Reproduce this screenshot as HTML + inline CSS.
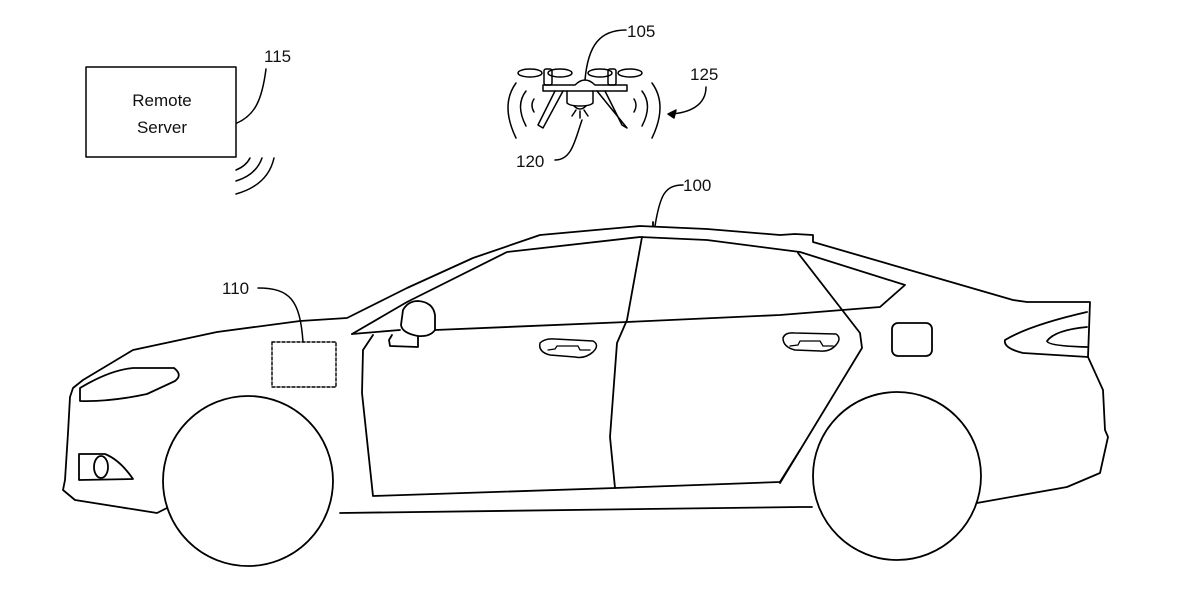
<!DOCTYPE html>
<html><head><meta charset="utf-8"><style>
html,body{margin:0;padding:0;background:#fff;}
svg{display:block;}
text{font-family:"Liberation Sans",sans-serif;fill:#111;}
</style></head><body>
<svg width="1178" height="589" viewBox="0 0 1178 589" fill="none" stroke="#000" stroke-width="1.8" stroke-linejoin="round" stroke-linecap="round">
<!-- Remote server -->
<rect x="86" y="67" width="150" height="90" stroke-width="1.5"/>
<text x="162" y="106" font-size="17" text-anchor="middle" stroke="none">Remote</text>
<text x="162" y="133" font-size="17" text-anchor="middle" stroke="none">Server</text>
<text x="264" y="62" font-size="17" stroke="none">115</text>
<path d="M266 69 C262 100 255 115 237 123" stroke-width="1.5"/>
<path d="M236 170 Q246 166 250 158" stroke-width="1.5"/>
<path d="M236 181 Q256 175 262 158" stroke-width="1.5"/>
<path d="M236 194 Q268 185 274 158" stroke-width="1.5"/>

<!-- Drone -->
<g stroke-width="1.5">
<text x="627" y="37" font-size="17" stroke="none">105</text>
<path d="M626 30 C600 30 588 45 585 80"/>
<text x="690" y="80" font-size="17" stroke="none">125</text>
<path d="M706 87 C706 105 690 113 670 114"/>
<path d="M668 114 l8 -4 l-2 8 z" fill="#000"/>
<text x="516" y="167" font-size="17" stroke="none">120</text>
<path d="M555 160 C572 160 575 140 582 120"/>
<!-- propellers -->
<ellipse cx="530" cy="73" rx="12" ry="4"/><ellipse cx="560" cy="73" rx="12" ry="4"/>
<ellipse cx="600" cy="73" rx="12" ry="4"/><ellipse cx="630" cy="73" rx="12" ry="4"/>
<rect x="544" y="69" width="8" height="16" rx="2"/><rect x="608" y="69" width="8" height="16" rx="2"/>
<path d="M543 85 L575 85 Q580 80 585 80 Q590 80 595 85 L627 85 L627 91 L543 91 Z"/>
<path d="M567 91 L567 103 Q570 106 580 106 Q590 106 593 103 L593 91"/>
<path d="M574 106 Q580 112 586 106"/>
<path d="M555 91 L538 125 L543 128 L563 91"/>
<path d="M605 91 L622 125 L627 128 L597 91"/>
<path d="M576 110 l-4 6 M580 111 l0 7 M584 110 l4 6"/>
<path d="M516 83 Q500 105 516 138"/><path d="M526 91 Q515 105 526 126"/><path d="M534 99 Q530 105 534 112"/>
<path d="M652 83 Q668 105 652 138"/><path d="M642 91 Q653 105 642 126"/><path d="M634 99 Q638 105 634 112"/>
</g>

<!-- Car body -->
<text x="683" y="191" font-size="17" stroke="none">100</text>
<path d="M683 185 C665 185 660 195 655 226" stroke-width="1.5"/>
<text x="222" y="294" font-size="17" stroke="none">110</text>
<path d="M258 288 C290 288 300 300 303 342" stroke-width="1.5"/>
<rect x="272" y="342" width="64" height="45" stroke-width="1.4" stroke-dasharray="3,2"/>

<!-- outer outline -->
<path d="M167 508 L157 513 L75 500 L63 490 L65 480 L68 433 L70 397 L73 388 L83 380 L133 350 L217 332 L300 321 L347 318 L383 300 L407 288 L473 258 L540 235 L640 226 L707 229 L780 235 L795 234 L813 235 L813 242 L1013 300 L1027 302 L1090 302 L1088 357 L1103 390 L1105 430 L1108 437 L1100 473 L1067 487 L977 503"/>
<path d="M340 513 L800 507 L812 507"/>
<!-- wheels -->
<circle cx="248" cy="481" r="85"/>
<circle cx="897" cy="476" r="84"/>
<!-- window/greenhouse -->
<path d="M352 334 L407 302 L507 252 L640 237 L707 240 L800 252 L905 285 L880 307 L780 315 L627 322 L435 330"/>
<path d="M352 334 L400 330"/>
<!-- B pillar -->
<path d="M642 237 L627 320 L617 343 L610 437 L615 488"/>
<!-- front door -->
<path d="M373 335 L363 350 L362 393 L373 496 L615 488 L780 482 L800 450"/>
<!-- C line / rear door -->
<path d="M798 253 L860 333 L862 348 L780 483"/>
<!-- mirror -->
<path d="M403 310 Q408 301 418 301 Q433 302 435 315 L435 330 Q430 337 418 336 Q402 333 401 325 Z"/>
<path d="M392 335 L389 340 L390 346 L418 347 L418 336"/>
<!-- handles -->
<path d="M540 343 Q545 338 555 339 L593 341 Q600 345 593 352 Q585 359 575 357 L550 355 Q538 352 540 343 Z" stroke-width="1.5"/>
<path d="M548 350 L555 349 L557 346 L578 346 L580 350 L590 350" stroke-width="1.3"/>
<path d="M783 338 Q785 332 795 333 L836 334 Q842 338 836 345 Q830 352 820 351 L795 350 Q783 347 783 338 Z" stroke-width="1.5"/>
<path d="M790 346 L798 345 L800 341 L820 341 L823 346 L833 346" stroke-width="1.3"/>
<!-- fuel door -->
<rect x="892" y="323" width="40" height="33" rx="6"/>
<!-- tail light -->
<path d="M1087 312 Q1030 325 1005 340 Q1003 348 1023 353 L1088 357"/>
<path d="M1087 327 Q1055 330 1047 341 Q1048 346 1087 347"/>
<!-- headlight -->
<path d="M80 401 L80 388 Q110 370 133 368 L174 368 Q183 375 175 381 L147 394 Q110 402 80 401 Z"/>
<!-- fog light -->
<path d="M79 454 L79 480 L133 479 Q120 460 105 454 Z"/>
<ellipse cx="101" cy="467" rx="7" ry="11"/>
<!-- roof bump -->
<path d="M653 226 L653 222"/>
</svg>
</body></html>
